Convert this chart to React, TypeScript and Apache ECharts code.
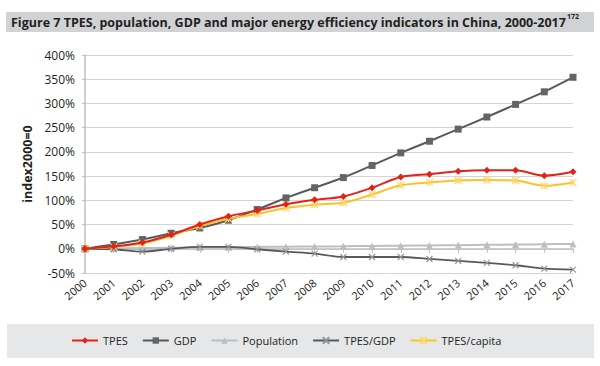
import React, { useEffect, useRef } from "react";
import * as echarts from "echarts";

const years = ["2000","2001","2002","2003","2004","2005","2006","2007","2008","2009","2010","2011","2012","2013","2014","2015","2016","2017"];
const tpes = [0, 5, 13, 29, 50, 67, 79, 92, 101, 108, 126, 148, 154, 160, 162, 162, 151, 159];
const gdp = [0, 9, 19, 32, 43, 59, 81, 105, 126, 147, 172, 198, 222, 247, 272, 298, 324, 354];
const population = [0, 0.8, 1.4, 2.0, 2.6, 3.2, 3.7, 4.2, 4.7, 5.2, 5.8, 6.3, 6.9, 7.5, 8.1, 8.7, 9.3, 10];
const tpesPerGdp = [0, -1, -6, 0, 4, 4, -1, -6, -10, -17, -17, -17, -21, -25, -29, -34, -41, -43];
const tpesPerCapita = [0, 4, 11, 27, 47, 62, 72, 84, 91, 95, 112, 131, 137, 141, 142, 141, 130, 137];
const yTicks = { min: -50, max: 400, interval: 50 };

const FONT = "'Open Sans', 'Noto Sans', sans-serif";
const TXT = "#231f20";

export default function App() {
  const ref = useRef<HTMLDivElement>(null);
  useEffect(() => {
    if (!ref.current) return;
    const chart = echarts.init(ref.current, null, { renderer: "svg" });
    const xSym = "path://M0,0L10,10M10,0L0,10";
    const starSym = "path://M0,0L10,10M10,0L0,10M5,0L5,10";
    chart.setOption({
      animation: false,
      backgroundColor: "#ffffff",
      textStyle: { fontFamily: FONT },
      title: {
        left: 11,
        top: 13,
        padding: 0,
        text: "{a|Figure 7 TPES, population, GDP and major energy efficiency indicators in China, 2000-2017}{s|172}",
        textStyle: {
          rich: {
            a: { fontFamily: FONT, fontWeight: "bold", fontSize: 12.5, color: TXT, lineHeight: 18 },
            s: { fontFamily: FONT, fontWeight: "bold", fontSize: 7, color: TXT, verticalAlign: "top", lineHeight: 18, padding: [0, 0, 8, 1] },
          },
        },
      },
      graphic: [
        { type: "rect", z: -1, silent: true, shape: { x: 6, y: 12, width: 588, height: 20 }, style: { fill: "#d1d2d4" } },
        { type: "rect", z: -1, silent: true, shape: { x: 7, y: 324, width: 587, height: 34 }, style: { fill: "#e6e7e8" } },
      ],
      legend: {
        top: 330,
        left: 66,
        itemWidth: 26,
        itemHeight: 8,
        itemGap: 14,
        textStyle: { fontFamily: FONT, fontSize: 11, color: TXT },
        data: ["TPES", "GDP", "Population", "TPES/GDP", "TPES/capita"],
      },
      grid: { left: 85, right: 27, top: 55, bottom: 93, containLabel: false },
      xAxis: {
        type: "category",
        data: years,
        boundaryGap: false,
        axisLine: { lineStyle: { color: "#bcbec0", width: 1.5 } },
        axisTick: { show: true, length: 4, lineStyle: { color: "#bcbec0" } },
        axisLabel: { rotate: 40, color: TXT, fontSize: 11, margin: 8, fontFamily: FONT, interval: 0 },
        splitLine: { show: false },
      },
      yAxis: {
        type: "value",
        min: yTicks.min,
        max: yTicks.max,
        interval: yTicks.interval,
        name: "index2000=0",
        nameLocation: "middle",
        nameGap: 48,
        nameRotate: 90,
        nameTextStyle: { fontFamily: FONT, fontWeight: "bold", fontSize: 12.5, color: TXT },
        axisLine: { show: true, lineStyle: { color: "#bcbec0", width: 1.5 } },
        axisTick: { show: true, length: 3, lineStyle: { color: "#bcbec0" } },
        axisLabel: { formatter: "{value}%", color: TXT, fontSize: 12, margin: 10, fontFamily: FONT },
        splitLine: { lineStyle: { color: "#d4d4d4", width: 1.2 } },
      },
      series: [
        {
          name: "Population", type: "line", data: population, smooth: 0.2,
          symbol: "triangle", symbolSize: 7,
          lineStyle: { color: "#bcbec0", width: 2 }, itemStyle: { color: "#bcbec0" }, z: 2,
        },
        {
          name: "TPES/GDP", type: "line", data: tpesPerGdp, smooth: 0.3,
          symbol: xSym, symbolSize: 6,
          lineStyle: { color: "#58595b", width: 1.8 },
          itemStyle: { color: "#58595b", borderColor: "#939598", borderWidth: 1.2 }, z: 3,
        },
        {
          name: "GDP", type: "line", data: gdp, smooth: 0.1,
          symbol: "rect", symbolSize: 7,
          lineStyle: { color: "#58595b", width: 2 }, itemStyle: { color: "#636466" }, z: 4,
        },
        {
          name: "TPES/capita", type: "line", data: tpesPerCapita, smooth: 0.3,
          symbol: starSym, symbolSize: 7,
          lineStyle: { color: "#fcc22c", width: 2 },
          itemStyle: { color: "#fcc22c", borderColor: "#fcd870", borderWidth: 1.2 }, z: 5,
        },
        {
          name: "TPES", type: "line", data: tpes, smooth: 0.3,
          symbol: "diamond", symbolSize: 7,
          lineStyle: { color: "#e2231a", width: 2 }, itemStyle: { color: "#e2231a" }, z: 6,
        },
      ],
    });
    return () => chart.dispose();
  }, []);
  return (
    <div
      ref={ref}
      style={{ position: "fixed", left: 0, top: 0, width: 600, height: 366, background: "#fff" }}
    />
  );
}
